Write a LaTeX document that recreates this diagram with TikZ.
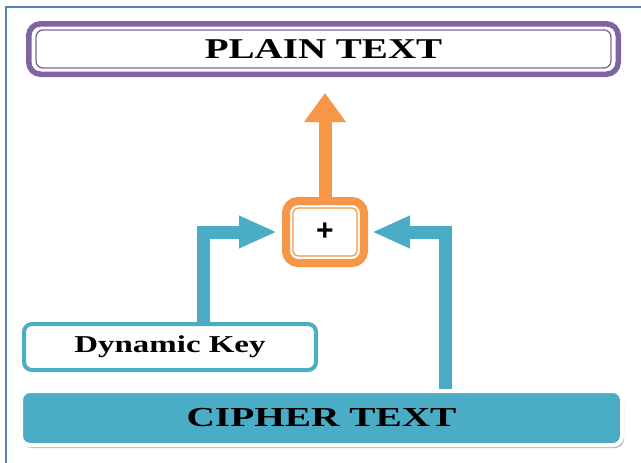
\documentclass[tikz,border=0pt]{standalone}
\usepackage{fontspec}
\usepackage{graphicx}
\setmainfont{Liberation Serif}
\setsansfont{Liberation Sans}
\usetikzlibrary{arrows.meta,shadows,calc}

\definecolor{framecol}{HTML}{4F81BD}
\definecolor{plumcol}{HTML}{8064A2}
\definecolor{ambercol}{HTML}{F79646}
\definecolor{tealcol}{HTML}{4BACC6}

\tikzset{
  boxlabel/.style={font=\bfseries},
  plainbox/.style={draw=plumcol, line width=5.5pt, rounded corners=12pt,
    fill=white, minimum width=589.5pt, minimum height=50.5pt, inner sep=0pt},
  xorbox/.style={draw=ambercol, line width=8pt, rounded corners=12pt,
    fill=white, minimum width=78pt, minimum height=62pt, inner sep=0pt},
  keybox/.style={draw=tealcol, line width=4pt, rounded corners=8pt,
    fill=white, minimum width=292pt, minimum height=46pt, inner sep=0pt},
  cipherbox/.style={draw=white, line width=4pt, rounded corners=9pt,
    fill=tealcol, minimum width=601pt, minimum height=54pt, inner sep=0pt,
    drop shadow={shadow xshift=2pt, shadow yshift=-3pt, fill=black!45, opacity=0.6}},
  upflow/.style={ambercol, line width=13pt, line join=miter,
    -{Triangle[width=40pt,length=29pt]}},
  sideflow/.style={tealcol, line width=13pt, line join=miter,
    -{Triangle[width=30pt,length=38pt]}},
}

\begin{document}
\begin{tikzpicture}[x=1pt,y=-1pt]
\useasboundingbox (0,0) rectangle (641,463);
\fill[white] (0,0) rectangle (641,463);

% page frame
\draw[framecol, line width=2pt] (6,463) -- (6,7) -- (641,7);

% boxes (anchors sit on the outer edge of each border)
\node[plainbox, boxlabel] (plain) at (323.5,49)
  {\raisebox{-3.5pt}{\fontsize{28.7}{30}\selectfont\scalebox{1.36}[1]{PLAIN TEXT}}};
\draw[plumcol, line width=1.3pt, rounded corners=7pt]
  ($(plain.north west)+(10,9)$) rectangle ($(plain.south east)+(-10,-9)$);

\node[xorbox] (xor) at (325,232)
  {\fontsize{30}{32}\selectfont\sffamily\bfseries +};
\draw[ambercol, line width=1.2pt, rounded corners=5pt]
  ($(xor.north west)+(11,11)$) rectangle ($(xor.south east)+(-11,-11)$);

\node[keybox, boxlabel] (key) at (170,347)
  {\fontsize{24.2}{26}\selectfont\scalebox{1.36}[1]{Dynamic Key}};

\node[cipherbox, boxlabel] (cipher) at (321.5,418)
  {\fontsize{27.5}{29}\selectfont\scalebox{1.43}[1]{CIPHER TEXT}};

% corner points of the side flows
\coordinate (kturn) at (203.5,232);
\coordinate (cturn) at (445,232);

% flows
\draw[upflow, shorten >=16pt] (xor.north) -- (xor.north |- plain.south);
\draw[sideflow, shorten >=5pt] (kturn |- key.north) -- (kturn) -- (xor.west);
\draw[sideflow, shorten >=4pt] (cturn |- cipher.north) -- (cturn) -- (xor.east);
\end{tikzpicture}
\end{document}
